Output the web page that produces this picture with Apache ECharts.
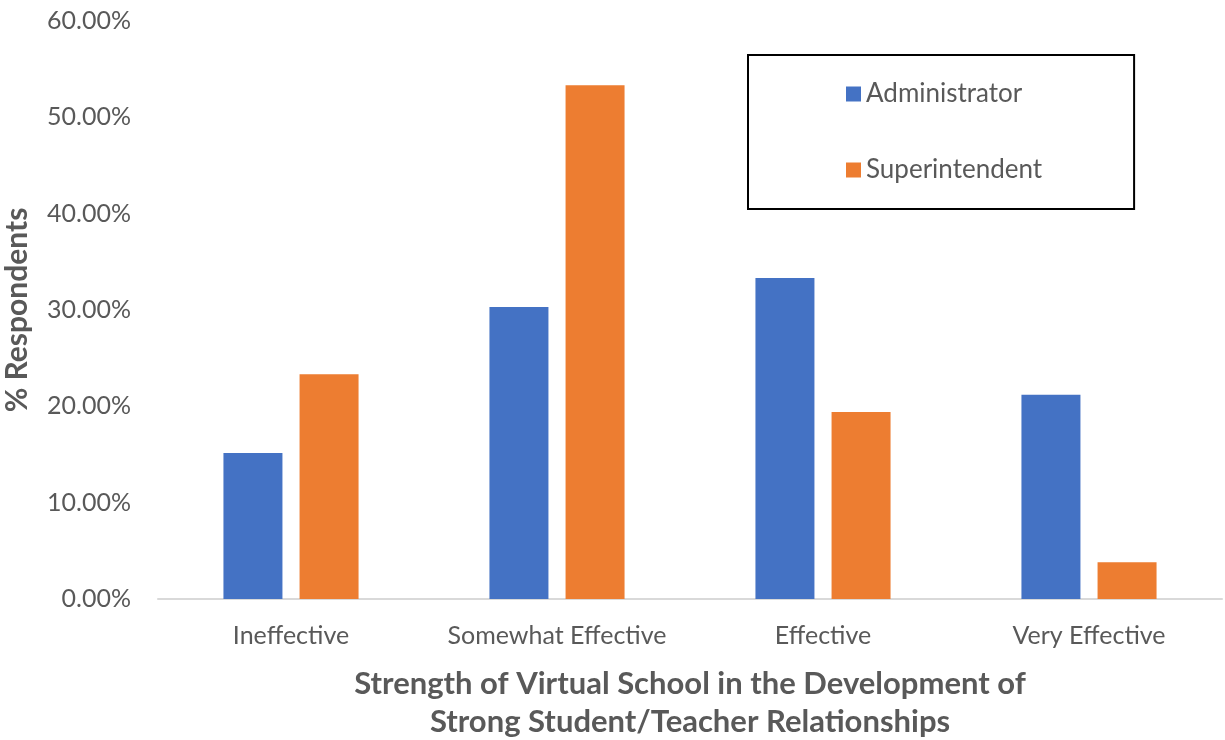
<!DOCTYPE html>
<html>
<head>
<meta charset="utf-8">
<script src="https://cdn.jsdelivr.net/npm/echarts@6/dist/echarts.min.js"></script>
<style>
  html, body { margin: 0; padding: 0; background: #fff; }
  #chart { width: 1225px; height: 740px; }
</style>
</head>
<body>
<div id="chart"></div>
<script>
// Survey responses, percent of respondents per rating
const categories = ['Ineffective', 'Somewhat Effective', 'Effective', 'Very Effective'];
const administrator = [15.15, 30.30, 33.33, 21.21];
const superintendent = [23.33, 53.33, 19.40, 3.82];
const seriesNames = ['Administrator', 'Superintendent'];
const yTicks = { min: 0, max: 60, interval: 10 };

const FONT = 'Lato, "Open Sans", sans-serif';
const TEXT = '#595959';

const chart = echarts.init(document.getElementById('chart'));
chart.setOption({
  animation: false,
  textStyle: { fontFamily: FONT },
  grid: { left: 158, right: 3, top: 21, bottom: 141, containLabel: false, outerBoundsMode: 'none' },
  legend: {
    orient: 'vertical',
    left: 748,
    top: 55,
    padding: [26, 92, 26, 98],
    borderColor: '#000',
    borderWidth: 2,
    itemWidth: 15,
    itemHeight: 15,
    itemGap: 50,
    icon: 'rect',
    textStyle: { fontFamily: FONT, fontSize: 26, color: TEXT, lineHeight: 26 },
    data: seriesNames
  },
  xAxis: {
    type: 'category',
    data: categories,
    axisLine: { lineStyle: { color: '#d9d9d9', width: 2 } },
    axisTick: { show: false },
    axisLabel: { fontSize: 25, color: TEXT, margin: 24, fontFamily: FONT, interval: 0, hideOverlap: false },
    name: 'Strength of Virtual School in the Development of\nStrong Student/Teacher Relationships',
    nameLocation: 'middle',
    nameGap: 66,
    nameTextStyle: { fontSize: 31, fontWeight: 'bold', color: TEXT, lineHeight: 38, fontFamily: FONT }
  },
  yAxis: {
    type: 'value',
    min: yTicks.min,
    max: yTicks.max,
    interval: yTicks.interval,
    splitLine: { show: false },
    axisLine: { show: false },
    axisTick: { show: false },
    axisLabel: {
      fontSize: 25, color: TEXT, margin: 27, fontFamily: FONT,
      formatter: v => v.toFixed(2) + '%'
    },
    name: '% Respondents',
    nameLocation: 'middle',
    nameGap: 126,
    nameTextStyle: { fontSize: 30, fontWeight: 'bold', color: TEXT, fontFamily: FONT }
  },
  series: [
    {
      name: seriesNames[0], type: 'bar', data: administrator,
      barWidth: 59, barGap: '29%',
      itemStyle: { color: '#4472C4' }
    },
    {
      name: seriesNames[1], type: 'bar', data: superintendent,
      barWidth: 59, barGap: '29%',
      itemStyle: { color: '#ED7D31' }
    }
  ]
});
</script>
</body>
</html>
